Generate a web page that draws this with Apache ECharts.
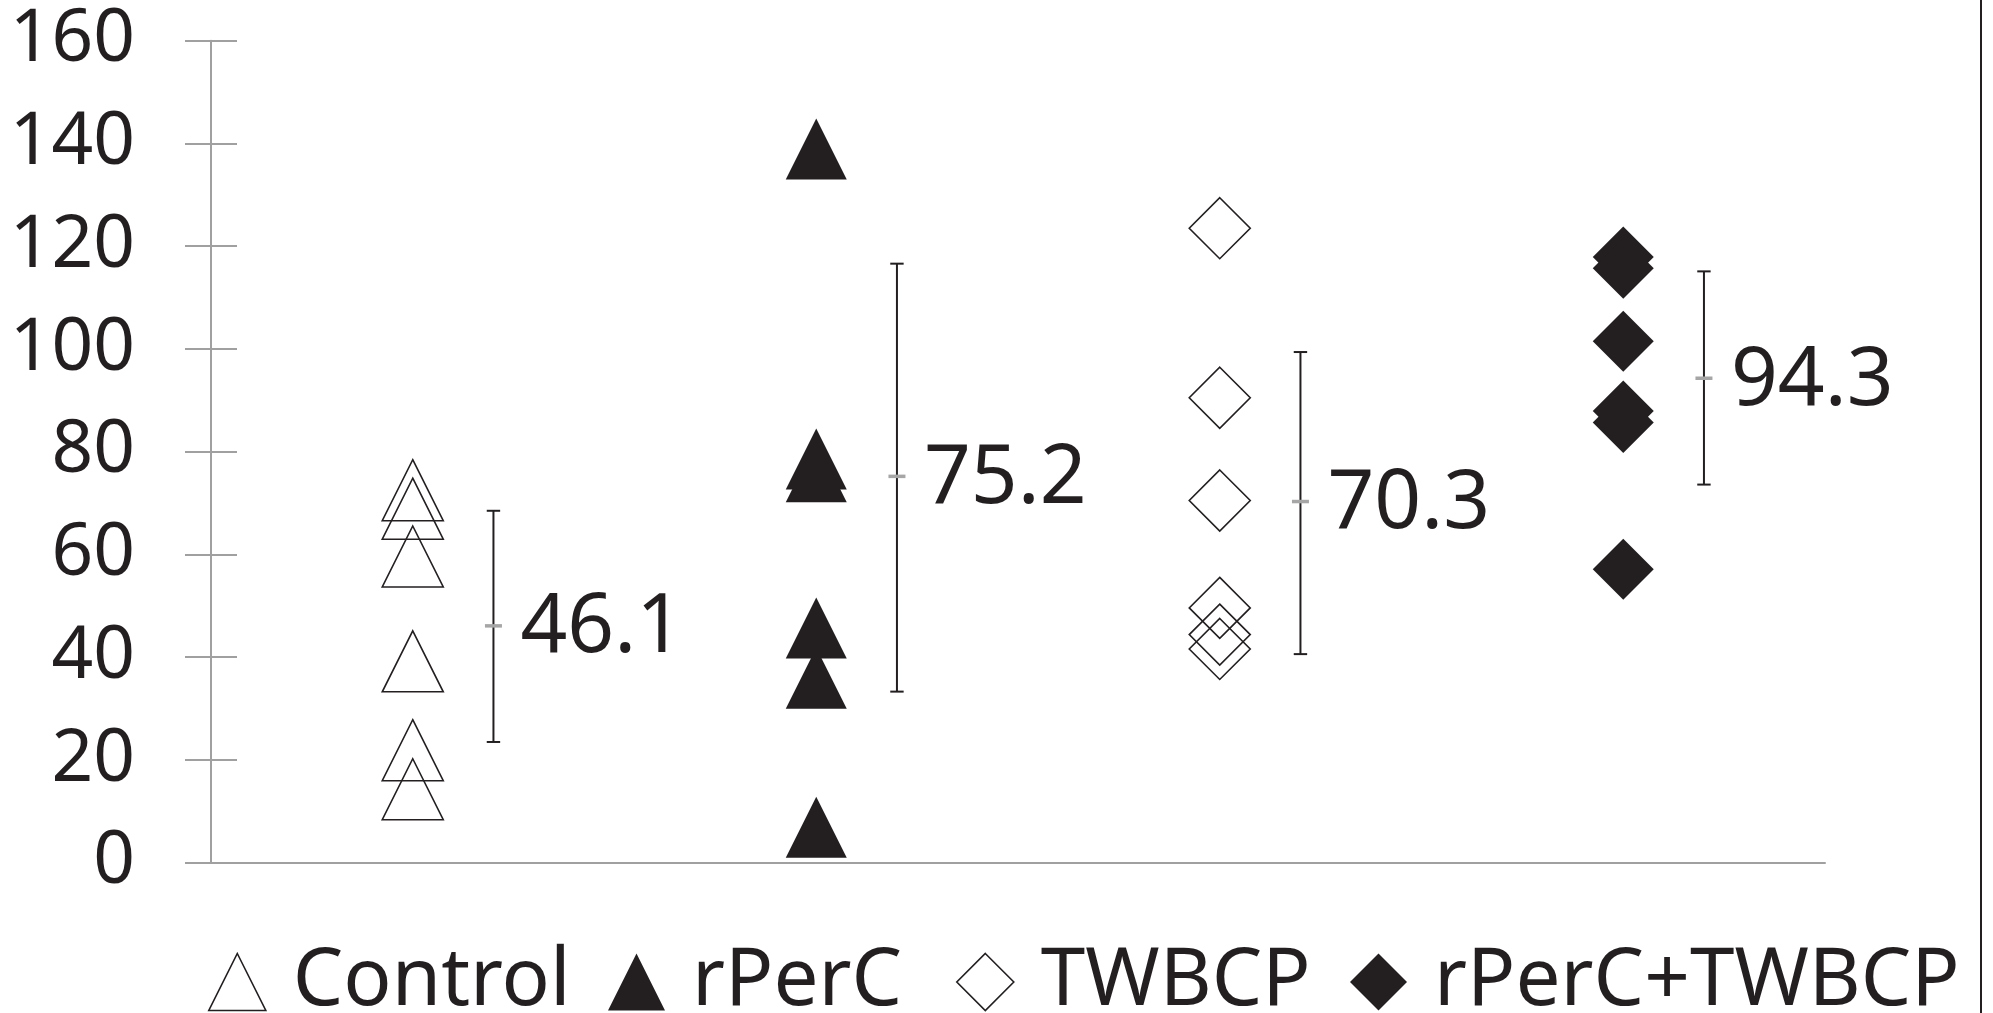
<!DOCTYPE html>
<html>
<head>
<meta charset="utf-8">
<script src="https://cdn.jsdelivr.net/npm/echarts@6/dist/echarts.min.js"></script>
<style>
html,body{margin:0;padding:0;background:#ffffff;}
#chart{width:1993px;height:1013px;}
</style>
</head>
<body>
<div id="chart"></div>
<script>
// ---- data ----
const categories = ['Control', 'rPerC', 'TWBCP', 'rPerC+TWBCP'];
const controlValues = [72.5, 68.9, 59.6, 39.2, 21.9, 14.3];
const rPerCValues   = [138.9, 78.6, 76.1, 45.7, 35.9, 6.9];
const twbcpValues   = [123.5, 90.5, 70.5, 49.6, 44.4, 41.6];
const comboValues   = [117.9, 115.7, 101.5, 87.9, 85.7, 57.1];
const meanValues = [46.1, 75.2, 70.3, 94.3];
const errLow  = [23.5, 33.3, 40.6, 73.6];
const errHigh = [68.5, 116.6, 99.4, 115.1];
const yMin = 0, yMax = 160, yInterval = 20;

// ---- styling / layout ----
const FONT = "'Noto Sans', 'Open Sans', sans-serif";
const INK = '#231f20';
const AXIS_GRAY = '#a0a0a0';
const ERR_OFFSET = 0.2;
const groups = [controlValues, rPerCValues, twbcpValues, comboValues];
const symbols = ['triangle', 'triangle', 'diamond', 'diamond'];
const hollow = [true, false, true, false];
const legendLefts = [208, 608, 956, 1350];

const markerStyle = (i) => hollow[i]
  ? { color: 'rgba(0,0,0,0)', borderColor: INK, borderWidth: 1.6, opacity: 1 }
  : { color: INK, borderWidth: 0, opacity: 1 };

const scatterSeries = categories.map((name, i) => ({
  name: name,
  type: 'scatter',
  xAxisIndex: 0,
  yAxisIndex: 0,
  symbol: symbols[i],
  symbolSize: [61, 61],
  itemStyle: markerStyle(i),
  emphasis: { disabled: true },
  z: 3,
  data: groups[i].map(v => [i + 1, v])
}));

const errSeries = {
  type: 'custom',
  xAxisIndex: 0,
  yAxisIndex: 0,
  z: 4,
  silent: true,
  data: meanValues.map((m, i) => [i + 1 + ERR_OFFSET, errLow[i], errHigh[i], m]),
  encode: { x: 0, y: [1, 2, 3] },
  renderItem: function (params, api) {
    const x = api.value(0), lo = api.value(1), hi = api.value(2), m = api.value(3);
    const pT = api.coord([x, hi]);
    const pB = api.coord([x, lo]);
    const pM = api.coord([x, m]);
    const cap = 6.7, dash = 8.5;
    const ls = { stroke: INK, lineWidth: 2 };
    return {
      type: 'group',
      children: [
        { type: 'line', shape: { x1: pT[0], y1: pT[1], x2: pB[0], y2: pB[1] }, style: ls },
        { type: 'line', shape: { x1: pT[0] - cap, y1: pT[1], x2: pT[0] + cap, y2: pT[1] }, style: ls },
        { type: 'line', shape: { x1: pB[0] - cap, y1: pB[1], x2: pB[0] + cap, y2: pB[1] }, style: ls },
        { type: 'line', shape: { x1: pM[0] - dash, y1: pM[1], x2: pM[0] + dash, y2: pM[1] },
          style: { stroke: '#a6a6a6', lineWidth: 3.5 } },
        { type: 'text', x: pM[0] + 27, y: pM[1] + 3,
          style: { text: m.toFixed(1), fontSize: 82, fontFamily: FONT, fill: INK,
                   align: 'left', verticalAlign: 'middle' } }
      ]
    };
  }
};

const option = {
  animation: false,
  backgroundColor: '#ffffff',
  grid: { left: 211, right: 168, top: 40.7, bottom: 150.3, containLabel: false },
  xAxis: {
    type: 'value', min: 0.5, max: 4.5,
    axisLine: { show: true, onZero: false, lineStyle: { color: AXIS_GRAY, width: 2 } },
    axisTick: { show: false }, axisLabel: { show: false }, splitLine: { show: false }
  },
  yAxis: [
    {
      type: 'value', min: yMin, max: yMax, interval: yInterval, position: 'left',
      axisLine: { show: true, onZero: false, lineStyle: { color: AXIS_GRAY, width: 2 } },
      axisTick: { show: true, inside: false, length: 26, lineStyle: { color: AXIS_GRAY, width: 2 } },
      axisLabel: { show: true, margin: 76, fontSize: 73, fontFamily: FONT, color: INK },
      splitLine: { show: false }
    },
    {
      type: 'value', min: yMin, max: yMax, interval: yInterval, position: 'left',
      axisLine: { show: false, onZero: false },
      axisTick: { show: true, inside: true, length: 26, lineStyle: { color: AXIS_GRAY, width: 2 } },
      axisLabel: { show: false }, splitLine: { show: false }
    }
  ],
  legend: categories.map((name, i) => ({
    data: [name],
    left: legendLefts[i],
    top: 942,
    orient: 'horizontal',
    padding: 0,
    itemWidth: 57,
    itemHeight: 57,
    selectedMode: false,
    itemStyle: hollow[i]
      ? { borderWidth: 1.6, borderColor: INK, color: 'rgba(0,0,0,0)', opacity: 1 }
      : { color: INK, borderWidth: 0, opacity: 1 },
    textStyle: { fontSize: 80, lineHeight: 57, fontFamily: FONT, color: INK, padding: [0, 0, 0, 22] }
  })),
  graphic: [
    { type: 'rect', left: 1980, top: 0, shape: { width: 2, height: 1013 }, style: { fill: INK }, silent: true }
  ],
  series: scatterSeries.concat([errSeries])
};

const chart = echarts.init(document.getElementById('chart'), null, { renderer: 'canvas' });
chart.setOption(option);
</script>
</body>
</html>
